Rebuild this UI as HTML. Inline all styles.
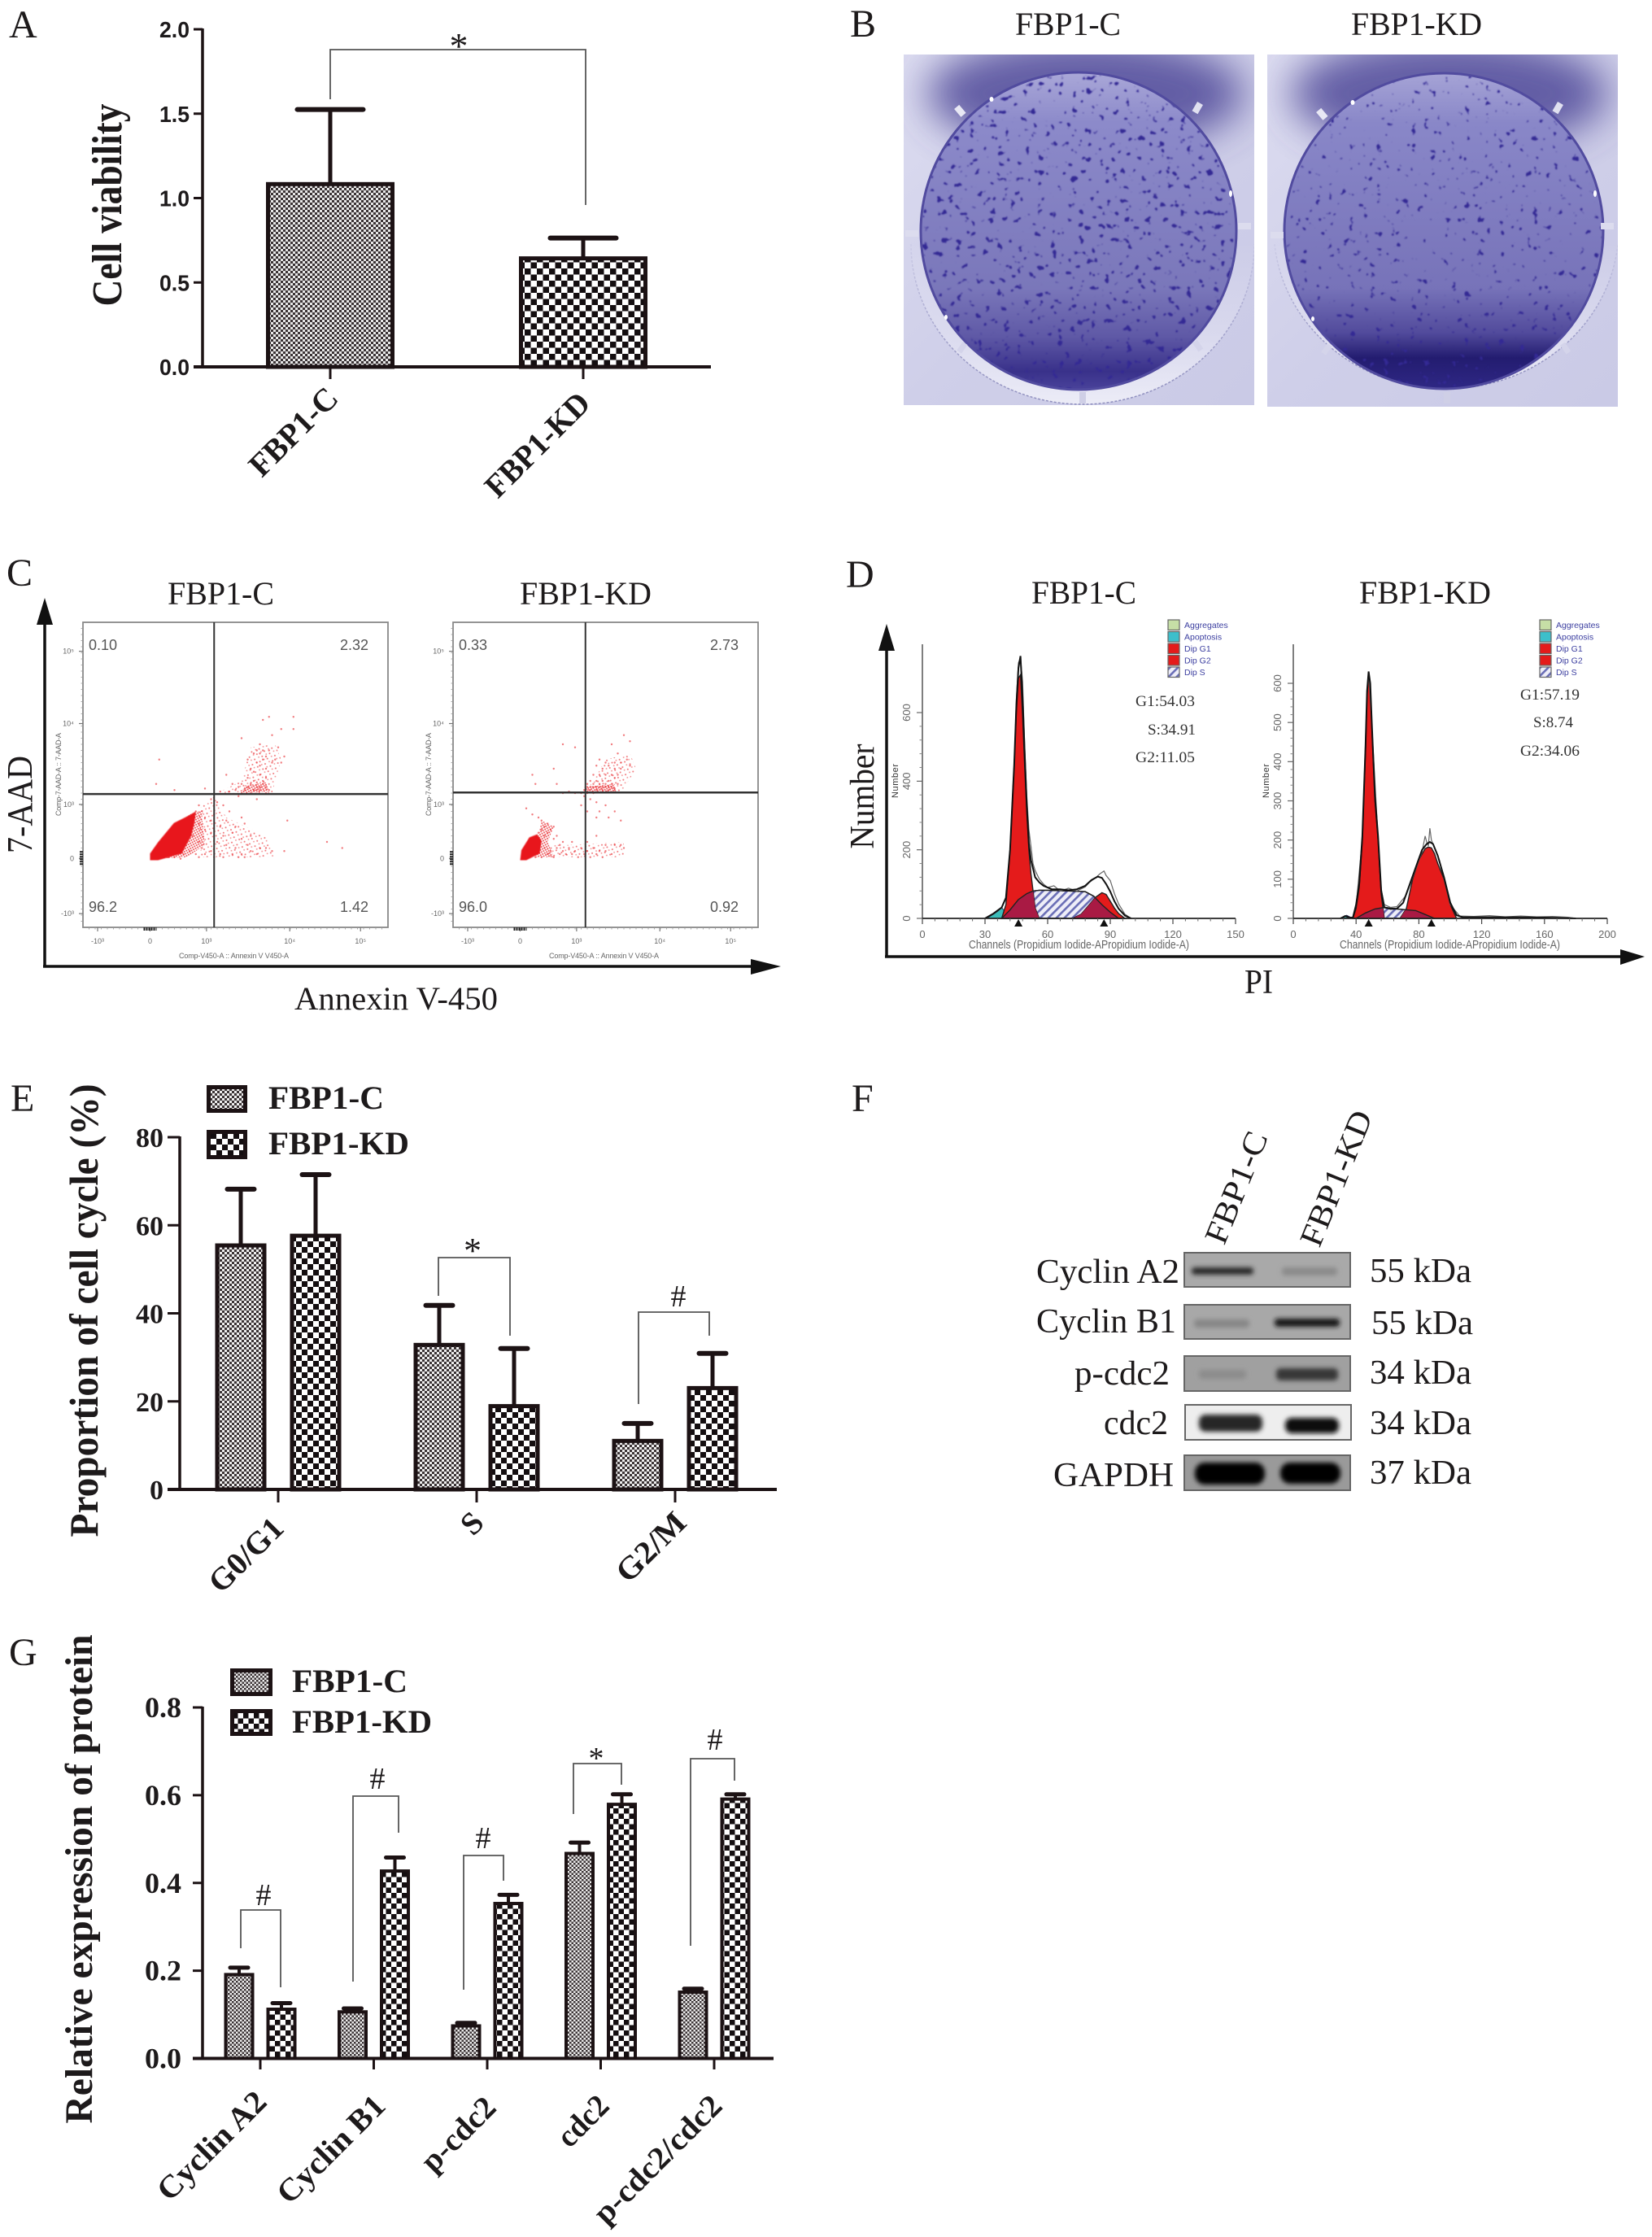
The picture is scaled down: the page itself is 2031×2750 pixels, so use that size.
<!DOCTYPE html>
<html lang="en">
<head>
<meta charset="utf-8">
<title>FBP1 knockdown cell cycle figure</title>
<style>
html,body{margin:0;padding:0;background:#fff;}
svg{display:block;}
text{font-family:"Liberation Serif",serif;fill:#1d1a1b;}
.letter{font-size:48px;}
.title{font-size:40px;}
.bold{font-weight:bold;}
.sans{font-family:"Liberation Sans",sans-serif;}
.blotlabel{font-size:42px;}
.g{font-size:19px;fill:#333;}
.quad{font-family:"Liberation Sans",sans-serif;font-size:18px;fill:#555;}
.small{font-family:"Liberation Sans",sans-serif;font-size:9px;fill:#666;}
.chan{font-family:"Liberation Sans",sans-serif;font-size:15px;fill:#666;}
.bracket{fill:none;stroke:#555;stroke-width:1.8;}
.leg{font-family:"Liberation Sans",sans-serif;font-size:10.5px;fill:#3c3fa0;}
</style>
</head>
<body>
<svg id="figure" xmlns="http://www.w3.org/2000/svg" width="2031" height="2750" viewBox="0 0 2031 2750">
<defs>
  <pattern id="fineA" width="6" height="6" patternUnits="userSpaceOnUse"><rect width="6" height="6" fill="#e8e8e8"/><rect width="3" height="3" fill="#3a3234"/><rect x="3" y="3" width="3" height="3" fill="#3a3234"/></pattern>
  <pattern id="coarseA" width="15" height="15" patternUnits="userSpaceOnUse"><rect width="15" height="15" fill="#fff"/><rect width="7.5" height="7.5" fill="#140e10"/><rect x="7.5" y="7.5" width="7.5" height="7.5" fill="#140e10"/></pattern>
  <pattern id="fineE" width="6" height="6" patternUnits="userSpaceOnUse"><rect width="6" height="6" fill="#eeeeee"/><rect width="3" height="3" fill="#3a3234"/><rect x="3" y="3" width="3" height="3" fill="#3a3234"/></pattern>
  <pattern id="coarseE" width="14" height="14" patternUnits="userSpaceOnUse"><rect width="14" height="14" fill="#fff"/><rect width="7" height="7" fill="#140e10"/><rect x="7" y="7" width="7" height="7" fill="#140e10"/></pattern>
  <pattern id="fineG" width="5" height="5" patternUnits="userSpaceOnUse"><rect width="5" height="5" fill="#eeeeee"/><rect width="2.5" height="2.5" fill="#3a3234"/><rect x="2.5" y="2.5" width="2.5" height="2.5" fill="#3a3234"/></pattern>
  <pattern id="coarseG" width="13" height="13" patternUnits="userSpaceOnUse"><rect width="13" height="13" fill="#fff"/><rect width="6.5" height="6.5" fill="#140e10"/><rect x="6.5" y="6.5" width="6.5" height="6.5" fill="#140e10"/></pattern>
  <pattern id="hatch" width="7" height="7" patternUnits="userSpaceOnUse" patternTransform="rotate(45)"><rect width="7" height="7" fill="#eeeef8"/><rect width="2.6" height="7" fill="#6a6eb6"/></pattern>
  <pattern id="stippleSparse" width="7" height="7" patternUnits="userSpaceOnUse" patternTransform="rotate(23)"><circle cx="2" cy="2" r="1" fill="#ec3a3f" opacity="0.7"/><circle cx="5.500" cy="4.500" r="0.9" fill="#ec3a3f" opacity="0.6"/></pattern>
  <pattern id="stippleDense" width="4" height="4" patternUnits="userSpaceOnUse" patternTransform="rotate(17)"><circle cx="1" cy="1" r="1" fill="#e8262c" opacity="0.8"/><circle cx="3" cy="3" r="1" fill="#e8262c" opacity="0.8"/></pattern>
  <filter id="colonies" x="0" y="0" width="100%" height="100%" color-interpolation-filters="sRGB">
    <feTurbulence type="fractalNoise" baseFrequency="0.12" numOctaves="2" seed="11"/>
    <feColorMatrix type="matrix" values="0 0 0 0 0.2  0 0 0 0 0.16  0 0 0 0 0.58  14 0 0 0 -9.2"/>
    <feGaussianBlur stdDeviation="0.7"/>
  </filter>
  <filter id="colonies2" x="0" y="0" width="100%" height="100%" color-interpolation-filters="sRGB">
    <feTurbulence type="fractalNoise" baseFrequency="0.12" numOctaves="2" seed="29"/>
    <feColorMatrix type="matrix" values="0 0 0 0 0.2  0 0 0 0 0.16  0 0 0 0 0.58  14 0 0 0 -9.5"/>
    <feGaussianBlur stdDeviation="0.7"/>
  </filter>
  <filter id="blur3" x="-30%" y="-300%" width="160%" height="700%"><feGaussianBlur stdDeviation="3"/></filter>
  <filter id="blur20" x="-60%" y="-100%" width="220%" height="300%"><feGaussianBlur stdDeviation="24"/></filter>
  <filter id="soft"><feGaussianBlur stdDeviation="0.5"/></filter>
  <linearGradient id="dishGrad1" x1="0" y1="0" x2="0" y2="1">
    <stop offset="0" stop-color="#aaa8d8"/><stop offset="0.16" stop-color="#8c8aca"/><stop offset="0.68" stop-color="#7a77ba"/><stop offset="0.83" stop-color="#5f59a6"/><stop offset="0.94" stop-color="#39318a"/><stop offset="1" stop-color="#4a439b"/>
  </linearGradient>
  <linearGradient id="dishGrad2" x1="0" y1="0" x2="0" y2="1">
    <stop offset="0" stop-color="#a6a4d6"/><stop offset="0.16" stop-color="#8987c8"/><stop offset="0.68" stop-color="#7773b9"/><stop offset="0.82" stop-color="#524b9c"/><stop offset="0.9" stop-color="#231c70"/><stop offset="1" stop-color="#2f2885"/>
  </linearGradient>
  <linearGradient id="photoGrad" x1="0" y1="0" x2="1" y2="1">
    <stop offset="0" stop-color="#dcdcf0"/><stop offset="0.5" stop-color="#cfcfe9"/><stop offset="1" stop-color="#cacae6"/>
  </linearGradient>
  <linearGradient id="ringGrad" x1="0" y1="0" x2="0" y2="1">
    <stop offset="0" stop-color="#e8e8f5" stop-opacity="0"/><stop offset="0.55" stop-color="#e8e8f5" stop-opacity="0.45"/><stop offset="1" stop-color="#ecECf7" stop-opacity="1"/>
  </linearGradient>
  <linearGradient id="ringStroke" x1="0" y1="0" x2="0" y2="1">
    <stop offset="0" stop-color="#9b9bc6" stop-opacity="0.15"/><stop offset="0.6" stop-color="#9b9bc6" stop-opacity="0.9"/><stop offset="1" stop-color="#8f8fbe" stop-opacity="1"/>
  </linearGradient>
  <clipPath id="dishClip1"><ellipse cx="1326" cy="284" rx="193" ry="194"/></clipPath>
  <clipPath id="dishClip2"><ellipse cx="1775" cy="284" rx="195" ry="193"/></clipPath>
  <clipPath id="photoClip1"><rect x="1111" y="67" width="431" height="431"/></clipPath>
  <clipPath id="photoClip2"><rect x="1558" y="67" width="431" height="433"/></clipPath>
</defs>

<!-- PANEL A -->
<g id="panelA">
  <text class="letter" x="11" y="46">A</text>
  <text class="bold" transform="translate(149,252) rotate(-90)" text-anchor="middle" font-size="52" textLength="249" lengthAdjust="spacingAndGlyphs">Cell viability</text>
  <polyline class="bracket" points="406,122 406,61 720,61 720,252"/>
  <text x="564" y="72" text-anchor="middle" font-size="46">*</text>
  <text class="bold" transform="translate(418,492) rotate(-45)" text-anchor="end" font-size="40" textLength="136" lengthAdjust="spacingAndGlyphs">FBP1-C</text>
  <text class="bold" transform="translate(728,498) rotate(-45)" text-anchor="end" font-size="40" textLength="164" lengthAdjust="spacingAndGlyphs">FBP1-KD</text>
</g>

<!-- PANEL B -->
<g id="panelB">
  <text class="letter" x="1045" y="45">B</text>
  <text class="title" x="1248" y="43" textLength="130" lengthAdjust="spacingAndGlyphs">FBP1-C</text>
  <text class="title" x="1661" y="43" textLength="161" lengthAdjust="spacingAndGlyphs">FBP1-KD</text>

  <g clip-path="url(#photoClip1)">
    <rect x="1111" y="67" width="431" height="431" fill="url(#photoGrad)"/>
    <ellipse cx="1335" cy="115" rx="195" ry="70" fill="#4f4899" opacity="0.85" filter="url(#blur20)"/>
    <path d="M1120,300 A211,197 0 0 0 1542,300" fill="url(#ringGrad)" stroke="url(#ringStroke)" stroke-width="1.5" stroke-dasharray="3 2"/>
    <ellipse cx="1326" cy="284" rx="195" ry="196" fill="url(#dishGrad1)"/>
    <rect x="1120" y="80" width="412" height="410" clip-path="url(#dishClip1)" filter="url(#colonies)"/>
    <ellipse cx="1326" cy="284" rx="194" ry="195" fill="none" stroke="#514b9f" stroke-width="3"/>
    <ellipse cx="1219" cy="122" rx="2.5" ry="3" fill="#fff"/>
    <ellipse cx="1513" cy="238" rx="2" ry="4" fill="#fff"/>
    <ellipse cx="1163" cy="390" rx="2" ry="3" fill="#fff"/>
    <rect x="1174" y="132" width="13" height="8" fill="#e8e8f4" transform="rotate(50 1180 136)"/>
    <rect x="1466" y="129" width="13" height="8" fill="#e0e0f0" transform="rotate(-60 1472 133)"/>
    <rect x="1177" y="424" width="13" height="7" fill="#d4d4ea" transform="rotate(-55 1183 428)"/>
    <rect x="1466" y="421" width="13" height="7" fill="#d4d4ea" transform="rotate(55 1472 425)"/>
    <rect x="1522" y="274" width="16" height="8" fill="#dcdcee"/>
    <rect x="1113" y="283" width="16" height="8" fill="#dcdcee"/>
    <rect x="1327" y="482" width="8" height="14" fill="#cfcfe6"/>
  </g>

  <g clip-path="url(#photoClip2)">
    <rect x="1558" y="67" width="431" height="433" fill="url(#photoGrad)"/>
    <ellipse cx="1782" cy="115" rx="195" ry="70" fill="#4f4899" opacity="0.85" filter="url(#blur20)"/>
    <path d="M1567,300 A212,197 0 0 0 1989,300" fill="url(#ringGrad)" stroke="url(#ringStroke)" stroke-width="1.5" stroke-dasharray="3 2"/>
    <ellipse cx="1775" cy="284" rx="197" ry="195" fill="url(#dishGrad2)"/>
    <rect x="1568" y="80" width="414" height="410" clip-path="url(#dishClip2)" filter="url(#colonies2)"/>
    <ellipse cx="1775" cy="284" rx="196" ry="194" fill="none" stroke="#514b9f" stroke-width="3"/>
    <ellipse cx="1663" cy="126" rx="2.5" ry="3" fill="#fff"/>
    <ellipse cx="1961" cy="238" rx="2" ry="4" fill="#fff"/>
    <ellipse cx="1614" cy="392" rx="2" ry="3" fill="#fff"/>
    <rect x="1619" y="136" width="13" height="8" fill="#e8e8f4" transform="rotate(50 1625 140)"/>
    <rect x="1909" y="129" width="13" height="8" fill="#e0e0f0" transform="rotate(-60 1915 133)"/>
    <rect x="1625" y="426" width="13" height="7" fill="#d4d4ea" transform="rotate(-55 1631 430)"/>
    <rect x="1918" y="424" width="13" height="7" fill="#d4d4ea" transform="rotate(55 1924 428)"/>
    <rect x="1968" y="274" width="16" height="8" fill="#dcdcee"/>
    <rect x="1562" y="285" width="16" height="8" fill="#dcdcee"/>
    <rect x="1775" y="482" width="8" height="14" fill="#cfcfe6"/>
  </g>
</g>

<!-- PANEL C -->
<g id="panelC">
  <text class="letter" x="8" y="720">C</text>
  <text class="title" x="206" y="743" textLength="131" lengthAdjust="spacingAndGlyphs">FBP1-C</text>
  <text class="title" x="639" y="743" textLength="162" lengthAdjust="spacingAndGlyphs">FBP1-KD</text>
  <g id="flowC"></g>
  <g id="flowKD"></g>
  <line x1="55" y1="750" x2="55" y2="1188" stroke="#111" stroke-width="3.5"/>
  <polygon points="55,735 45,768 65,768" fill="#111"/>
  <line x1="53" y1="1188" x2="935" y2="1188" stroke="#111" stroke-width="3.5"/>
  <polygon points="960,1188 923,1179 923,1198" fill="#111"/>
  <text transform="translate(39,989) rotate(-90)" text-anchor="middle" font-size="44" textLength="120" lengthAdjust="spacingAndGlyphs">7-AAD</text>
  <text x="362" y="1241" font-size="40" textLength="250" lengthAdjust="spacingAndGlyphs">Annexin V-450</text>
  <text class="small" x="220" y="1178" textLength="135">Comp-V450-A :: Annexin V V450-A</text>
  <text class="small" x="675" y="1178" textLength="135">Comp-V450-A :: Annexin V V450-A</text>
  <text class="small" transform="translate(75,1003) rotate(-90)" textLength="102">Comp-7-AAD-A :: 7-AAD-A</text>
  <text class="small" transform="translate(530,1003) rotate(-90)" textLength="102">Comp-7-AAD-A :: 7-AAD-A</text>
</g>

<!-- PANEL D -->
<g id="panelD">
  <text class="letter" x="1040" y="722">D</text>
  <text class="title" x="1268" y="742" textLength="129" lengthAdjust="spacingAndGlyphs">FBP1-C</text>
  <text class="title" x="1671" y="742" textLength="162" lengthAdjust="spacingAndGlyphs">FBP1-KD</text>
  <g id="histC"></g>
  <g id="histKD"></g>
  <line x1="1090" y1="782" x2="1090" y2="1176" stroke="#111" stroke-width="3.5"/>
  <polygon points="1090,767 1080,800 1100,800" fill="#111"/>
  <line x1="1088" y1="1176" x2="2000" y2="1176" stroke="#111" stroke-width="3.5"/>
  <polygon points="2022,1176 1992,1167 1992,1186" fill="#111"/>
  <text transform="translate(1074,979) rotate(-90)" text-anchor="middle" font-size="42" textLength="129" lengthAdjust="spacingAndGlyphs">Number</text>
  <text x="1530" y="1221" font-size="42" textLength="35" lengthAdjust="spacingAndGlyphs">PI</text>
  <text class="g" x="1396" y="868" textLength="73" lengthAdjust="spacingAndGlyphs">G1:54.03</text>
  <text class="g" x="1411" y="903" textLength="59" lengthAdjust="spacingAndGlyphs">S:34.91</text>
  <text class="g" x="1396" y="937" textLength="73" lengthAdjust="spacingAndGlyphs">G2:11.05</text>
  <text class="g" x="1869" y="860" textLength="73" lengthAdjust="spacingAndGlyphs">G1:57.19</text>
  <text class="g" x="1885" y="894" textLength="49" lengthAdjust="spacingAndGlyphs">S:8.74</text>
  <text class="g" x="1869" y="929" textLength="73" lengthAdjust="spacingAndGlyphs">G2:34.06</text>
</g>

<!-- PANEL E -->
<g id="panelE">
  <text class="letter" x="13" y="1366">E</text>
  <text class="bold" transform="translate(120,1611) rotate(-90)" text-anchor="middle" font-size="50" textLength="557" lengthAdjust="spacingAndGlyphs">Proportion of cell cycle (%)</text>
  <rect x="256.500" y="1336.500" width="45" height="29" fill="url(#fineE)" stroke="#1c1214" stroke-width="5"/>
  <rect x="256.500" y="1391.500" width="45" height="31" fill="url(#coarseE)" stroke="#1c1214" stroke-width="5"/>
  <text class="bold" x="330" y="1363" font-size="40" textLength="142" lengthAdjust="spacingAndGlyphs">FBP1-C</text>
  <text class="bold" x="330" y="1419" font-size="40" textLength="173" lengthAdjust="spacingAndGlyphs">FBP1-KD</text>
  <polyline class="bracket" points="539,1593 539,1546 627,1546 627,1642"/>
  <text x="581" y="1552" text-anchor="middle" font-size="44">*</text>
  <polyline class="bracket" points="785,1726 785,1613 872,1613 872,1642"/>
  <text x="834" y="1606" text-anchor="middle" font-size="38">#</text>
  <text class="bold" transform="translate(351,1881) rotate(-45)" text-anchor="end" font-size="39" textLength="112" lengthAdjust="spacingAndGlyphs">G0/G1</text>
  <text class="bold" transform="translate(597,1874) rotate(-45)" text-anchor="end" font-size="39">S</text>
  <text class="bold" transform="translate(846,1874) rotate(-45)" text-anchor="end" font-size="39" textLength="104" lengthAdjust="spacingAndGlyphs">G2/M</text>
</g>

<!-- PANEL F -->
<g id="panelF">
  <text class="letter" x="1047" y="1366">F</text>
  <text transform="translate(1505,1532) rotate(-68)" font-size="40" textLength="145" lengthAdjust="spacingAndGlyphs">FBP1-C</text>
  <text transform="translate(1622,1535) rotate(-68)" font-size="40" textLength="176" lengthAdjust="spacingAndGlyphs">FBP1-KD</text>

  <rect x="1456" y="1540" width="204" height="42" fill="#a9a9a9" stroke="#666" stroke-width="2"/>
  <rect x="1465" y="1558" width="76" height="9" rx="4" fill="#2c2c2c" filter="url(#blur3)"/>
  <rect x="1576" y="1558" width="68" height="10" rx="4" fill="#8a8a8a" filter="url(#blur3)"/>

  <rect x="1456" y="1604" width="204" height="42" fill="#a8a8a8" stroke="#666" stroke-width="2"/>
  <rect x="1468" y="1622" width="68" height="10" rx="4" fill="#868686" filter="url(#blur3)"/>
  <rect x="1567" y="1621" width="80" height="10" rx="4" fill="#141414" filter="url(#blur3)"/>

  <rect x="1456" y="1667" width="204" height="43" fill="#a0a0a0" stroke="#666" stroke-width="2"/>
  <rect x="1474" y="1684" width="58" height="11" rx="4" fill="#8c8c8c" filter="url(#blur3)"/>
  <rect x="1569" y="1682" width="76" height="15" rx="5" fill="#383838" filter="url(#blur3)"/>

  <rect x="1457" y="1727" width="204" height="43" fill="#eeeeee" stroke="#666" stroke-width="2"/>
  <rect x="1474" y="1739" width="78" height="21" rx="8" fill="#262626" filter="url(#blur3)"/>
  <rect x="1580" y="1743" width="66" height="19" rx="8" fill="#0c0c0c" filter="url(#blur3)"/>

  <rect x="1456" y="1789" width="204" height="43" fill="#9a9a9a" stroke="#666" stroke-width="2"/>
  <rect x="1469" y="1798" width="86" height="27" rx="12" fill="#000" filter="url(#blur3)"/>
  <rect x="1574" y="1798" width="74" height="26" rx="12" fill="#000" filter="url(#blur3)"/>

  <text class="blotlabel" x="1450" y="1577" text-anchor="end" textLength="176" lengthAdjust="spacingAndGlyphs">Cyclin A2</text>
  <text class="blotlabel" x="1446" y="1638" text-anchor="end" textLength="172" lengthAdjust="spacingAndGlyphs">Cyclin B1</text>
  <text class="blotlabel" x="1438" y="1702" text-anchor="end" textLength="117" lengthAdjust="spacingAndGlyphs">p-cdc2</text>
  <text class="blotlabel" x="1436" y="1763" text-anchor="end" textLength="79" lengthAdjust="spacingAndGlyphs">cdc2</text>
  <text class="blotlabel" x="1443" y="1827" text-anchor="end" textLength="148" lengthAdjust="spacingAndGlyphs">GAPDH</text>
  <text class="blotlabel" x="1684" y="1576" textLength="125" lengthAdjust="spacingAndGlyphs">55 kDa</text>
  <text class="blotlabel" x="1686" y="1640" textLength="125" lengthAdjust="spacingAndGlyphs">55 kDa</text>
  <text class="blotlabel" x="1684" y="1701" textLength="125" lengthAdjust="spacingAndGlyphs">34 kDa</text>
  <text class="blotlabel" x="1684" y="1763" textLength="125" lengthAdjust="spacingAndGlyphs">34 kDa</text>
  <text class="blotlabel" x="1684" y="1824" textLength="125" lengthAdjust="spacingAndGlyphs">37 kDa</text>
</g>

<!-- PANEL G -->
<g id="panelG">
  <text class="letter" x="11" y="2047">G</text>
  <text class="bold" transform="translate(113,2310) rotate(-90)" text-anchor="middle" font-size="48" textLength="601" lengthAdjust="spacingAndGlyphs">Relative expression of protein</text>
  <rect x="285.500" y="2053.500" width="47" height="29" fill="url(#fineG)" stroke="#1c1214" stroke-width="5"/>
  <rect x="285.500" y="2103.500" width="47" height="28" fill="url(#coarseG)" stroke="#1c1214" stroke-width="5"/>
  <text class="bold" x="359" y="2080" font-size="40" textLength="142" lengthAdjust="spacingAndGlyphs">FBP1-C</text>
  <text class="bold" x="359" y="2130" font-size="40" textLength="172" lengthAdjust="spacingAndGlyphs">FBP1-KD</text>
  <polyline class="bracket" points="296,2395 296,2348 345,2348 345,2443"/>
  <text x="324" y="2342" text-anchor="middle" font-size="38">#</text>
  <polyline class="bracket" points="434,2436 434,2208 490,2208 490,2253"/>
  <text x="464" y="2199" text-anchor="middle" font-size="38">#</text>
  <polyline class="bracket" points="570,2446 570,2281 619,2281 619,2312"/>
  <text x="594" y="2272" text-anchor="middle" font-size="38">#</text>
  <polyline class="bracket" points="705,2230 705,2168 764,2168 764,2194"/>
  <text x="733" y="2174" text-anchor="middle" font-size="38">*</text>
  <polyline class="bracket" points="849,2392 849,2162 903,2162 903,2189"/>
  <text x="879" y="2151" text-anchor="middle" font-size="38">#</text>
  <text class="bold" transform="translate(330,2586) rotate(-45)" text-anchor="end" font-size="39" textLength="172" lengthAdjust="spacingAndGlyphs">Cyclin A2</text>
  <text class="bold" transform="translate(476,2591) rotate(-45)" text-anchor="end" font-size="39" textLength="170" lengthAdjust="spacingAndGlyphs">Cyclin B1</text>
  <text class="bold" transform="translate(612,2593) rotate(-45)" text-anchor="end" font-size="39" textLength="112" lengthAdjust="spacingAndGlyphs">p-cdc2</text>
  <text class="bold" transform="translate(751,2591) rotate(-45)" text-anchor="end" font-size="39" textLength="72" lengthAdjust="spacingAndGlyphs">cdc2</text>
  <text class="bold" transform="translate(890,2591) rotate(-45)" text-anchor="end" font-size="39" textLength="205" lengthAdjust="spacingAndGlyphs">p-cdc2/cdc2</text>
</g>
</svg>

<script>
/* ---------- Panel A data ---------- */
const aCategories = ['FBP1-C', 'FBP1-KD'];
const aValues = [1.09, 0.65];
const aErrorTops = [1.525, 0.763];
const aTickValues = [0, 0.5, 1, 1.5, 2];
const aTickLabels = ['0.0', '0.5', '1.0', '1.5', '2.0'];

/* ---------- Panel E data ---------- */
const eCategories = ['G0/G1', 'S', 'G2/M'];
const eControl = [55.7, 33.1, 11.3];
const eKnockdown = [57.9, 19.2, 23.3];
const eControlErrorTops = [68.2, 41.8, 15];
const eKnockdownErrorTops = [71.5, 32, 30.9];
const eTickValues = [0, 20, 40, 60, 80];
const eTickLabels = ['0', '20', '40', '60', '80'];

/* ---------- Panel G data ---------- */
const gCategories = ['Cyclin A2', 'Cyclin B1', 'p-cdc2', 'cdc2', 'p-cdc2/cdc2'];
const gControl = [0.193, 0.108, 0.076, 0.469, 0.153];
const gKnockdown = [0.114, 0.429, 0.355, 0.581, 0.593];
const gControlErrorTops = [0.207, 0.114, 0.081, 0.492, 0.159];
const gKnockdownErrorTops = [0.126, 0.458, 0.373, 0.602, 0.602];
const gTickValues = [0, 0.2, 0.4, 0.6, 0.8];
const gTickLabels = ['0.0', '0.2', '0.4', '0.6', '0.8'];

/* ---------- Panel C data (percent of plot width / height) ---------- */
const flowQuadrantsC = ['0.10', '2.32', '96.2', '1.42'];
const flowQuadrantsKD = ['0.33', '2.73', '96.0', '0.92'];
const flowGateC = [43, 43.7];
const flowGateKD = [43.4, 44.2];
const flowTickLabels = ['-10³', '0', '10³', '10⁴', '10⁵'];
const flowTicksX = [4.8, 22, 40.5, 67.8, 91];
const flowTicksY = [4.5, 22.6, 40.3, 66.8, 90.5];
const flowBlobC = [[22,22],[22,24.2],[24.6,27.9],[29.8,34.2],[35,36.8],[37,38],[36.5,34],[35.5,30],[32.4,24.2],[24.6,22]];
const flowCloudDenseC = [[24,22.5],[34,23],[40,27],[39,36],[39.5,38.5],[35,37],[30,33]];
const flowCloudSparseC = [[38,23],[63,23],[60,30],[47,36],[43,43],[37,38],[39,27]];
const flowUpperSparseC = [[44,44],[62,44],[65,55],[63,60],[55,59],[52,48]];
const flowUpperDenseC = [[52,44],[61,44.5],[60,47.5],[53,46.5]];
const flowBlobKD = [[22,22],[22.4,25.3],[25,29.5],[27.6,30.5],[29,28.4],[28.4,24.2],[24,22]];
const flowCloudDenseKD = [[27,23],[33,23],[31,28],[33,33],[29,35],[28,30]];
const flowCloudSparseKD = [[30,23],[56,23],[56,28],[38,27],[31,27]];
const flowUpperSparseKD = [[43,44],[55,44],[60,52],[58,57],[50,55],[46,48]];
const flowUpperDenseKD = [[43,44.5],[53,44.5],[53,47],[43,46]];
const flowPointsC = [[59,68],[61,69],[69,69],[65,65],[69,65],[52,62],[62,63],[58,60],[64,59],[60,56],[66,56],[63,55],[57,54],[58,53],[59,55],[55,52],[60,52],[62,54],[65,54],[56,51],[58,50],[54,49],[60,49],[47,50],[49,47],[52,47],[55,47],[57,46],[58,46],[59,47],[60,46],[56,45],[57,45],[58,45],[61,45],[53,45],[50,45],[48,44.5],[52,44],[55,44],[60,44],[51,43],[45,44.5],[25,55],[24,47],[30,45],[40,45.5],[56,57],[58,57],[57,58],[59,58],[54,55],[61,58],[56,48],[59,48],[57,47.5],[54,46],[51,46],[44,41],[46,40],[48,38],[43,37],[42,35],[47,35],[52,36],[45,33],[50,33],[53,34],[42,31],[46,30],[49,31],[52,29],[55,30],[44,28],[47,27],[50,26],[54,27],[58,26],[60,26],[42,25],[45,24],[49,24],[52,24],[55,25],[57,24],[62,25],[43,23],[51,23],[46,23],[53,23],[67,35],[66,25],[80,28],[85,26],[57,42],[42,42],[38,40],[37,38],[40,36],[38,34],[40,32],[36,30],[38,28],[39,26],[35,25],[37,24],[33,24],[30,23],[28,23],[32,22.5],[40,24],[38,23]];
const flowPointsKD = [[36,60],[40,59],[52,60],[56,63],[58,61],[54,57],[48,55],[50,54],[53,54],[55,54],[47,53],[49,52],[51,53],[53,52],[55,52],[57,55],[58,53],[46,50],[48,50],[50,50],[52,50],[54,50],[45,48],[47,48],[49,48],[51,48],[53,49],[44,47],[46,47],[48,47],[50,47],[52,47],[54,47],[44,46],[45,46],[46,46],[47,46],[48,46],[49,46],[50,46],[51,46],[52,46],[53,45.5],[43,45],[45,45],[47,45],[49,45],[51,45],[53,45],[42,44],[44,44],[46,44],[36,44],[38,44.5],[40,44],[26,50],[27,47],[34,47],[33,52],[43,43],[45,42],[42,40],[47,41],[50,40],[53,38],[44,38],[48,38],[47,36],[51,36],[55,35],[24,39],[26,37],[28,36],[29,35],[31,34],[30,33],[32,32],[33,33],[29,32],[31,31],[28,31],[34,30],[30,30],[33,29],[36,28],[35,27],[39,28],[44,28],[50,27],[53,27],[47,30],[55,27],[56,26],[30,26],[32,25],[34,26],[36,25],[38,26],[40,25],[42,26],[44,25],[46,26],[48,25],[50,25],[52,24],[31,24],[33,23],[35,24],[37,24],[39,24],[41,23],[43,24],[45,23],[47,24],[49,23],[29,23],[27,23]];

/* ---------- Panel D data (channel, count) ---------- */
const histLegendNames = ['Aggregates', 'Apoptosis', 'Dip G1', 'Dip G2', 'Dip S'];
const histCXTicks = [0, 30, 60, 90, 120, 150];
const histCYTicks = [0, 200, 400, 600];
const histCMarkers = [46, 87];
const histCChannelsG1 = [38, 40, 42, 44, 45, 46, 47, 48, 49, 50, 51, 52, 54, 56];
const histCCountsG1 = [0, 40, 200, 450, 600, 700, 710, 590, 440, 310, 200, 130, 30, 0];
const histCChannelsS = [38, 42, 46, 50, 53, 56, 60, 70, 78, 82, 86, 90, 94];
const histCCountsS = [0, 25, 55, 72, 80, 82, 82, 80, 78, 65, 40, 18, 0];
const histCChannelsG2 = [72, 76, 80, 83, 86, 88, 90, 92, 94, 97];
const histCCountsG2 = [0, 12, 40, 62, 75, 70, 50, 30, 14, 0];
const histCChannelsApop = [30, 32, 34, 36, 38, 40, 42];
const histCCountsApop = [0, 4, 12, 20, 32, 15, 0];
const histCChannelsTotal = [30, 34, 38, 40, 42, 44, 45, 46, 47, 48, 49, 50, 51, 52, 54, 56, 58, 62, 66, 70, 74, 78, 81, 84, 86, 88, 90, 92, 94, 97, 100];
const histCCountsTotal = [0, 14, 32, 60, 200, 450, 620, 730, 765, 640, 480, 330, 220, 170, 120, 105, 95, 85, 85, 82, 85, 95, 112, 122, 118, 100, 78, 50, 28, 8, 0];
const histCChannelsRaw = [30, 34, 38, 40, 42, 44, 45, 46, 47, 48, 49, 50, 51, 52, 53, 54, 56, 58, 60, 63, 66, 70, 74, 78, 80, 83, 85, 87, 88, 90, 92, 94, 97, 100];
const histCCountsRaw = [0, 12, 30, 58, 190, 440, 640, 745, 760, 690, 500, 360, 260, 210, 160, 140, 115, 100, 90, 95, 80, 88, 80, 92, 105, 118, 130, 138, 125, 110, 72, 42, 12, 0];

const histKDXTicks = [0, 40, 80, 120, 160, 200];
const histKDYTicks = [0, 100, 200, 300, 400, 500, 600];
const histKDMarkers = [48, 88];
const histKDChannelsG1 = [38, 40, 42, 44, 46, 47, 48, 49, 50, 52, 54, 56, 58];
const histKDCountsG1 = [0, 25, 80, 200, 430, 570, 620, 590, 490, 300, 200, 60, 0];
const histKDChannelsS = [40, 46, 52, 58, 62, 66, 72, 78, 84, 90];
const histKDCountsS = [0, 14, 24, 28, 26, 24, 22, 20, 10, 0];
const histKDChannelsG2 = [68, 72, 76, 80, 84, 86, 88, 90, 92, 96, 100, 104];
const histKDCountsG2 = [0, 25, 100, 150, 178, 182, 180, 165, 140, 100, 35, 0];
const histKDChannelsApop = [30, 32, 34, 36, 38];
const histKDCountsApop = [0, 4, 8, 4, 0];
const histKDChannelsTotal = [30, 33, 36, 38, 40, 42, 44, 46, 47, 48, 49, 50, 52, 54, 56, 58, 62, 66, 70, 74, 78, 82, 85, 87, 89, 92, 96, 100, 104, 108, 120, 140, 160, 180];
const histKDCountsTotal = [0, 6, 2, 2, 35, 90, 210, 440, 580, 630, 600, 500, 310, 210, 70, 28, 24, 25, 40, 85, 130, 175, 190, 195, 190, 160, 105, 40, 8, 3, 3, 3, 2, 0];
const histKDChannelsRaw = [40, 44, 47, 48, 50, 54, 56, 58, 62, 66, 72, 78, 82, 84, 85, 86, 87, 88, 90, 93, 96, 100, 106, 115, 125, 135, 145, 155, 165, 175, 180];
const histKDCountsRaw = [30, 205, 575, 625, 495, 205, 75, 35, 28, 30, 60, 125, 170, 210, 195, 185, 230, 200, 180, 150, 100, 35, 6, 5, 7, 4, 6, 4, 5, 3, 0];

/* ---------- helpers ---------- */
const NS = 'http://www.w3.org/2000/svg';
function mk(tag, parent, attrs) {
  const el = document.createElementNS(NS, tag);
  for (const k in attrs) el.setAttribute(k, attrs[k]);
  parent.appendChild(el);
  return el;
}
function linear(d0, d1, r0, r1) {
  return function (v) { return r0 + (v - d0) * (r1 - r0) / (d1 - d0); };
}
const INK = '#1c1214';

function drawBar(parent, cx, width, value, errorTop, yScale, fillUrl, capWidth, sw) {
  const stem = mk('line', parent, { x1: cx, x2: cx, y1: yScale(value), y2: yScale(errorTop), stroke: INK, 'stroke-width': sw });
  
  
  const cap = mk('line', parent, { x1: cx - capWidth / 2, x2: cx + capWidth / 2, y1: yScale(errorTop), y2: yScale(errorTop), stroke: INK, 'stroke-width': sw + 1, 'stroke-linecap': 'round' });
  
  
  const top = yScale(value);
  const rect = mk('rect', parent, { x: cx - width / 2 + sw / 2, y: top + sw / 2 - 1, width: width - sw, height: Math.max(0, yScale(0) - top - sw / 2 + 1), fill: fillUrl, stroke: INK, 'stroke-width': sw });
  
  
}

function drawAxes(parent, axisX, axisEndX, xTickYEnd, tickValues, tickLabels, yScale, tickX, labelX, labelDy, fontAttrs, xTicks) {
  const yAxis = mk('line', parent, { x1: axisX, x2: axisX, y1: yScale(tickValues[tickValues.length - 1]) - 1, y2: yScale(0) + 1, stroke: INK, 'stroke-width': 3.5 });
  
  
  const xAxis = mk('line', parent, { x1: tickX, x2: axisEndX, y1: yScale(0), y2: yScale(0), stroke: INK, 'stroke-width': 4 });
  
  
  tickValues.forEach(function (v, i) {
    const t = mk('line', parent, { x1: tickX, x2: axisX, y1: yScale(v), y2: yScale(v), stroke: INK, 'stroke-width': 3 });
    
    
    const lab = mk('text', parent, Object.assign({ x: labelX, y: yScale(v) + labelDy, 'text-anchor': 'end' }, fontAttrs));
    
    
    lab.textContent = tickLabels[i];
  });
  xTicks.forEach(function (x) {
    const t = mk('line', parent, { x1: x, x2: x, y1: yScale(0), y2: xTickYEnd, stroke: INK, 'stroke-width': 3 });
    
    
  });
}

/* ---------- Panel A ---------- */
(function () {
  const g = document.getElementById('panelA');
  const yScale = linear(0, 2, 451, 36);
  const xScale = function (i) { return 406 + 311 * i; };
  const centers = aCategories.map(function (c, i) { return xScale(i); });
  aCategories.forEach(function (c, i) {
    drawBar(g, xScale(i), 158, aValues[i], aErrorTops[i], yScale, i === 0 ? 'url(#fineA)' : 'url(#coarseA)', 81, 5);
  });
  drawAxes(g, 249, 874, 466, aTickValues, aTickLabels, yScale, 238, 233, 10, { 'font-size': 28, 'font-weight': 'bold', 'class': 'sans', textLength: 37, lengthAdjust: 'spacingAndGlyphs' }, centers);
})();

/* ---------- Panel E ---------- */
(function () {
  const g = document.getElementById('panelE');
  const yScale = linear(0, 80, 1831, 1398);
  const xScale = function (i) { return 342 + 244 * i; };
  const centers = eCategories.map(function (c, i) { return xScale(i); });
  eCategories.forEach(function (c, i) {
    drawBar(g, xScale(i) - 46, 63, eControl[i], eControlErrorTops[i], yScale, 'url(#fineE)', 33, 5);
    drawBar(g, xScale(i) + 46, 63, eKnockdown[i], eKnockdownErrorTops[i], yScale, 'url(#coarseE)', 33, 5);
  });
  drawAxes(g, 221, 955, 1847, eTickValues, eTickLabels, yScale, 206, 201, 12, { 'font-size': 34, 'font-weight': 'bold' }, centers);
})();

/* ---------- Panel G ---------- */
(function () {
  const g = document.getElementById('panelG');
  const yScale = linear(0, 0.8, 2530.5, 2099);
  const xScale = function (i) { return 320 + 139.5 * i; };
  const centers = gCategories.map(function (c, i) { return xScale(i); });
  gCategories.forEach(function (c, i) {
    drawBar(g, xScale(i) - 26, 37, gControl[i], gControlErrorTops[i], yScale, 'url(#fineG)', 22, 4);
    drawBar(g, xScale(i) + 26, 37, gKnockdown[i], gKnockdownErrorTops[i], yScale, 'url(#coarseG)', 22, 4);
  });
  drawAxes(g, 249, 951, 2544, gTickValues, gTickLabels, yScale, 237, 223, 12, { 'font-size': 36, 'font-weight': 'bold' }, centers);
})();

/* ---------- Panel C ---------- */
function polyPoints(list, sx, sy) {
  return list.map(function (p) { return sx(p[0]).toFixed(1) + ',' + sy(p[1]).toFixed(1); }).join(' ');
}
function drawFlow(parent, x0, y0, W, H, blob, denseClouds, sparseClouds, points, gate, quadrants) {
  const sx = linear(0, 100, x0, x0 + W);
  const sy = linear(0, 100, y0 + H, y0);
  const frame = mk('rect', parent, { x: x0, y: y0, width: W, height: H, fill: '#fff', stroke: '#888', 'stroke-width': 1.8 });
  
  
  sparseClouds.forEach(function (poly) {
    const sparse = mk('polygon', parent, { points: polyPoints(poly, sx, sy), fill: 'url(#stippleSparse)' });
    
    
  });
  denseClouds.forEach(function (poly) {
    const dense = mk('polygon', parent, { points: polyPoints(poly, sx, sy), fill: 'url(#stippleDense)' });
    
    
  });
  const blobEl = mk('polygon', parent, { points: polyPoints(blob, sx, sy), fill: '#e8161c', filter: 'url(#soft)' });
  
  
  points.forEach(function (p) {
    const c = mk('circle', parent, { cx: sx(p[0]), cy: sy(p[1]), r: 1.2, fill: '#e8262c', opacity: 0.6 });
    
    
  });
  const vGate = mk('line', parent, { x1: sx(gate[0]), x2: sx(gate[0]), y1: y0, y2: y0 + H, stroke: '#333', 'stroke-width': 2 });
  
  
  const hGate = mk('line', parent, { x1: x0, x2: x0 + W, y1: sy(gate[1]), y2: sy(gate[1]), stroke: '#333', 'stroke-width': 2.6 });
  
  
  const qx = [x0 + 7, x0 + W - 24, x0 + 7, x0 + W - 24];
  const qy = [y0 + 34, y0 + 34, y0 + H - 19, y0 + H - 19];
  const qa = ['start', 'end', 'start', 'end'];
  quadrants.forEach(function (q, i) {
    const t = mk('text', parent, { x: qx[i], y: qy[i], 'text-anchor': qa[i], 'class': 'quad' });
    
    
    t.textContent = q;
  });
  flowTicksX.forEach(function (v, i) {
    const t = mk('line', parent, { x1: sx(v), x2: sx(v), y1: y0 + H, y2: y0 + H + 5, stroke: '#777', 'stroke-width': 1.2 });
    
    
    const lab = mk('text', parent, { x: sx(v), y: y0 + H + 20, 'text-anchor': 'middle', 'class': 'small' });
    
    
    lab.textContent = flowTickLabels[i];
  });
  flowTicksY.forEach(function (v, i) {
    const t = mk('line', parent, { x1: x0 - 5, x2: x0, y1: sy(v), y2: sy(v), stroke: '#777', 'stroke-width': 1.2 });
    
    
    const lab = mk('text', parent, { x: x0 - 11, y: sy(v) + 3, 'text-anchor': 'end', 'class': 'small' });
    
    
    lab.textContent = flowTickLabels[i];
  });
  for (let m = 2; m < 100; m += 2) {
    const mx = mk('line', parent, { x1: sx(m), x2: sx(m), y1: y0 + H, y2: y0 + H + 2.5, stroke: '#999', 'stroke-width': 0.8 });
    
    
    const my = mk('line', parent, { x1: x0 - 2.5, x2: x0, y1: sy(m), y2: sy(m), stroke: '#999', 'stroke-width': 0.8 });
    
    
  }
  const zeroX = mk('line', parent, { x1: sx(flowTicksX[1]) - 8, x2: sx(flowTicksX[1]) + 8, y1: y0 + H + 2, y2: y0 + H + 2, stroke: '#222', 'stroke-width': 4, 'stroke-dasharray': '2 1' });
  
  
  const zeroY = mk('line', parent, { x1: x0 - 2, x2: x0 - 2, y1: sy(flowTicksY[1]) - 9, y2: sy(flowTicksY[1]) + 9, stroke: '#222', 'stroke-width': 4, 'stroke-dasharray': '2 1' });
  
  
}
drawFlow(document.getElementById('flowC'), 102, 765, 375, 375, flowBlobC, [flowCloudDenseC, flowUpperDenseC], [flowCloudSparseC, flowUpperSparseC], flowPointsC, flowGateC, flowQuadrantsC);
drawFlow(document.getElementById('flowKD'), 557, 765, 375, 375, flowBlobKD, [flowCloudDenseKD, flowUpperDenseKD], [flowCloudSparseKD, flowUpperSparseKD], flowPointsKD, flowGateKD, flowQuadrantsKD);

/* ---------- Panel D ---------- */
function curvePath(ch, cnt, sx, sy, closed) {
  let d = '';
  ch.forEach(function (c, i) { d += (i ? 'L' : 'M') + sx(c).toFixed(1) + ' ' + sy(cnt[i]).toFixed(1) + ' '; });
  return closed ? d + 'Z' : d;
}
let histClipCount = 0;
function drawHistogram(parent, cfg) {
  const sx = linear(0, cfg.xMax, cfg.x0, cfg.x1);
  const sy = linear(0, cfg.yRefValue, cfg.baseY, cfg.yRefPixel);
  const baseline = sy(0);
  const hatch = mk('path', parent, { d: curvePath(cfg.sCh, cfg.sCnt, sx, sy, true), fill: 'url(#hatch)', stroke: '#222', 'stroke-width': 1.4 });
  
  
  const apop = mk('path', parent, { d: curvePath(cfg.apCh, cfg.apCnt, sx, sy, true), fill: '#3bbdb9', stroke: '#225', 'stroke-width': 0.8 });
  
  
  const g1 = mk('path', parent, { d: curvePath(cfg.g1Ch, cfg.g1Cnt, sx, sy, true), fill: '#e41b1b', stroke: '#222', 'stroke-width': 1.4 });
  
  
  const g2 = mk('path', parent, { d: curvePath(cfg.g2Ch, cfg.g2Cnt, sx, sy, true), fill: '#e41b1b', stroke: '#222', 'stroke-width': 1.4 });
  
  
  histClipCount += 1;
  const clipId = 'histOverlap' + histClipCount;
  const clip = mk('clipPath', parent, { id: clipId });
  mk('path', clip, { d: curvePath(cfg.g1Ch, cfg.g1Cnt, sx, sy, true) });
  mk('path', clip, { d: curvePath(cfg.g2Ch, cfg.g2Cnt, sx, sy, true) });
  const overlap = mk('path', parent, { d: curvePath(cfg.sCh, cfg.sCnt, sx, sy, true), fill: '#a91a44', 'clip-path': 'url(#' + clipId + ')' });
  
  
  const sOutline = mk('path', parent, { d: curvePath(cfg.sCh, cfg.sCnt, sx, sy, false), fill: 'none', stroke: '#222', 'stroke-width': 1.4 });
  
  
  const raw = mk('path', parent, { d: curvePath(cfg.rawCh, cfg.rawCnt, sx, sy, false), fill: 'none', stroke: '#666', 'stroke-width': 1.2 });
  
  
  const total = mk('path', parent, { d: curvePath(cfg.totCh, cfg.totCnt, sx, sy, false), fill: 'none', stroke: '#111', 'stroke-width': 2 });
  
  

  const yAxis = mk('line', parent, { x1: cfg.x0, x2: cfg.x0, y1: 792, y2: baseline, stroke: '#555', 'stroke-width': 1.5 });
  
  
  const xAxis = mk('line', parent, { x1: cfg.x0, x2: cfg.x1, y1: baseline, y2: baseline, stroke: '#222', 'stroke-width': 1.8 });
  
  

  cfg.xTicks.forEach(function (v, i) {
    const t = mk('line', parent, { x1: sx(v), x2: sx(v), y1: baseline, y2: baseline + 7, stroke: '#444', 'stroke-width': 1.2 });
    
    
    const lab = mk('text', parent, { x: sx(v), y: baseline + 24, 'text-anchor': 'middle', 'class': 'chan', style: 'font-size:13px' });
    
    
    lab.textContent = String(v);
    if (i < cfg.xTicks.length - 1) {
      const step = (cfg.xTicks[i + 1] - v) / 5;
      for (let m = 1; m < 5; m++) {
        const mt = mk('line', parent, { x1: sx(v + m * step), x2: sx(v + m * step), y1: baseline, y2: baseline + 3.5, stroke: '#666', 'stroke-width': 1 });
        
        
      }
    }
  });
  cfg.yTicks.forEach(function (v, i) {
    const t = mk('line', parent, { x1: cfg.x0 - 7, x2: cfg.x0, y1: sy(v), y2: sy(v), stroke: '#666', 'stroke-width': 1.2 });
    
    
    const lab = mk('text', parent, { transform: 'translate(' + (cfg.x0 - 15) + ',' + sy(v) + ') rotate(-90)', 'text-anchor': 'middle', 'class': 'chan', style: 'font-size:13px' });
    
    
    lab.textContent = String(v);
    if (i < cfg.yTicks.length - 1) {
      const step = (cfg.yTicks[i + 1] - v) / 5;
      for (let m = 1; m < 5; m++) {
        const mt = mk('line', parent, { x1: cfg.x0 - 3.5, x2: cfg.x0, y1: sy(v + m * step), y2: sy(v + m * step), stroke: '#888', 'stroke-width': 1 });
        
        
      }
    }
  });
  cfg.markers.forEach(function (ch) {
    const mx = sx(ch);
    const tri = mk('polygon', parent, { points: mx + ',' + (baseline + 1) + ' ' + (mx - 5) + ',' + (baseline + 10) + ' ' + (mx + 5) + ',' + (baseline + 10), fill: '#111' });
    
    
  });
  const chan = mk('text', parent, { x: cfg.x0 + 57, y: baseline + 37, 'class': 'chan', textLength: 271, lengthAdjust: 'spacingAndGlyphs' });
  
  
  chan.textContent = 'Channels (Propidium Iodide-APropidium Iodide-A)';
  const num = mk('text', parent, { transform: 'translate(' + (cfg.x0 - 30) + ',981) rotate(-90)', 'class': 'chan', style: 'font-size:11px;fill:#333', textLength: 42 });
  
  
  num.textContent = 'Number';

  const swatchFill = ['#c6dfa6', '#3dbfcb', '#e41b1b', '#e41b1b', 'url(#hatch)'];
  histLegendNames.forEach(function (n, i) {
    const y = 762 + i * 14.5;
    const s = mk('rect', parent, { x: cfg.legendX, y: y, width: 14, height: 12.5, fill: swatchFill[i], stroke: '#666', 'stroke-width': 1.2 });
    
    
    const t = mk('text', parent, { x: cfg.legendX + 20, y: y + 10, 'class': 'leg' });
    
    
    t.textContent = n;
  });
}
drawHistogram(document.getElementById('histC'), {
  xMax: 150, x0: 1134, x1: 1519, yRefValue: 600, baseY: 1129, yRefPixel: 876,
  xTicks: histCXTicks, yTicks: histCYTicks, markers: histCMarkers, legendX: 1436,
  g1Ch: histCChannelsG1, g1Cnt: histCCountsG1, sCh: histCChannelsS, sCnt: histCCountsS,
  g2Ch: histCChannelsG2, g2Cnt: histCCountsG2, apCh: histCChannelsApop, apCnt: histCCountsApop,
  totCh: histCChannelsTotal, totCnt: histCCountsTotal, rawCh: histCChannelsRaw, rawCnt: histCCountsRaw
});
drawHistogram(document.getElementById('histKD'), {
  xMax: 200, x0: 1590, x1: 1976, yRefValue: 600, baseY: 1129, yRefPixel: 840,
  xTicks: histKDXTicks, yTicks: histKDYTicks, markers: histKDMarkers, legendX: 1893,
  g1Ch: histKDChannelsG1, g1Cnt: histKDCountsG1, sCh: histKDChannelsS, sCnt: histKDCountsS,
  g2Ch: histKDChannelsG2, g2Cnt: histKDCountsG2, apCh: histKDChannelsApop, apCnt: histKDCountsApop,
  totCh: histKDChannelsTotal, totCnt: histKDCountsTotal, rawCh: histKDChannelsRaw, rawCnt: histKDCountsRaw
});
</script>
</body>
</html>
